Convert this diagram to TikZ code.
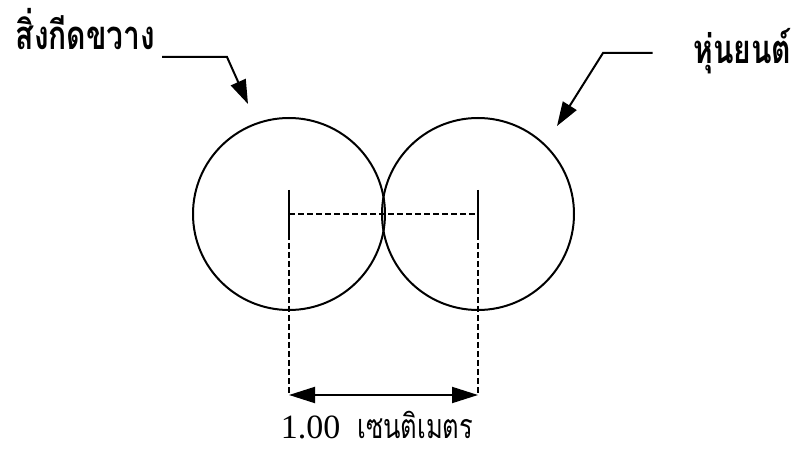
\documentclass[tikz,border=0pt]{standalone}
\usepackage{fontspec}
\setmainfont{Liberation Serif}
\newfontfamily\thaifont[Script=Thai, FakeStretch=0.75]{Loma}
\usetikzlibrary{positioning, calc, arrows.meta}

\tikzset{
  ring/.style={circle, draw, line width=1pt, minimum size=96pt, inner sep=0pt, outer sep=0pt},
  tag/.style={font=\thaifont\bfseries\fontsize{20}{22}\selectfont, inner sep=0pt},
  leader/.style={-{Triangle[length=12pt, width=8pt]}, line width=1pt},
  extline/.style={line width=0.6pt, dash pattern=on 3pt off 1.5pt},
}

\begin{document}
\begin{tikzpicture}[thick, x=0.5pt, y=-0.5pt, >={Triangle[length=13pt, width=8pt]}]

    \useasboundingbox (0,0) rectangle (799,454);

    % --- The two touching circles ---
    \node[ring] (obstacle) at (289,214) {};
    \node[ring] (robot) at (478,214) {};

    % --- Labels with leader arrows ---
    \node[tag, anchor=base west] (obstaclelabel) at (15,50) {สิ่งกีดขวาง};
    \coordinate (obstaclebend) at (227,57);
    \coordinate (obstacletip) at (248,104);
    \draw[leader] ([xshift=3]obstaclelabel.east |- obstaclebend) -- (obstaclebend) -- (obstacletip);

    \node[tag, anchor=base east] (robotlabel) at (792,64) {หุ่นยนต์};
    \coordinate (robotbend) at (603,53);
    \coordinate (robottip) at (557,126);
    \draw[leader] ([xshift=-20]robotlabel.west |- robotbend) -- (robotbend) -- (robottip);

    % --- Distance between centres ---
    \coordinate (dimbase) at (0,395);
    \draw[extline] (obstacle.center) -- (robot.center);
    % short solid ticks, then dashed extension lines
    \draw[line width=1pt] ([yshift=12]obstacle.center) -- ([yshift=-10]obstacle.center);
    \draw[line width=1pt] ([yshift=12]robot.center) -- ([yshift=-10]robot.center);
    \draw[extline] ([yshift=-10]obstacle.center) -- (obstacle.center |- dimbase);
    \draw[extline] ([yshift=-10]robot.center) -- (robot.center |- dimbase);
    \draw[<->, line width=1pt] (obstacle.center |- dimbase) -- (robot.center |- dimbase);

    \node[font=\fontsize{17}{19}\selectfont, anchor=base, inner sep=0pt] (distance) at (377,439)
      {1.00\enspace{\thaifont เซนติเมตร}};

\end{tikzpicture}
\end{document}
